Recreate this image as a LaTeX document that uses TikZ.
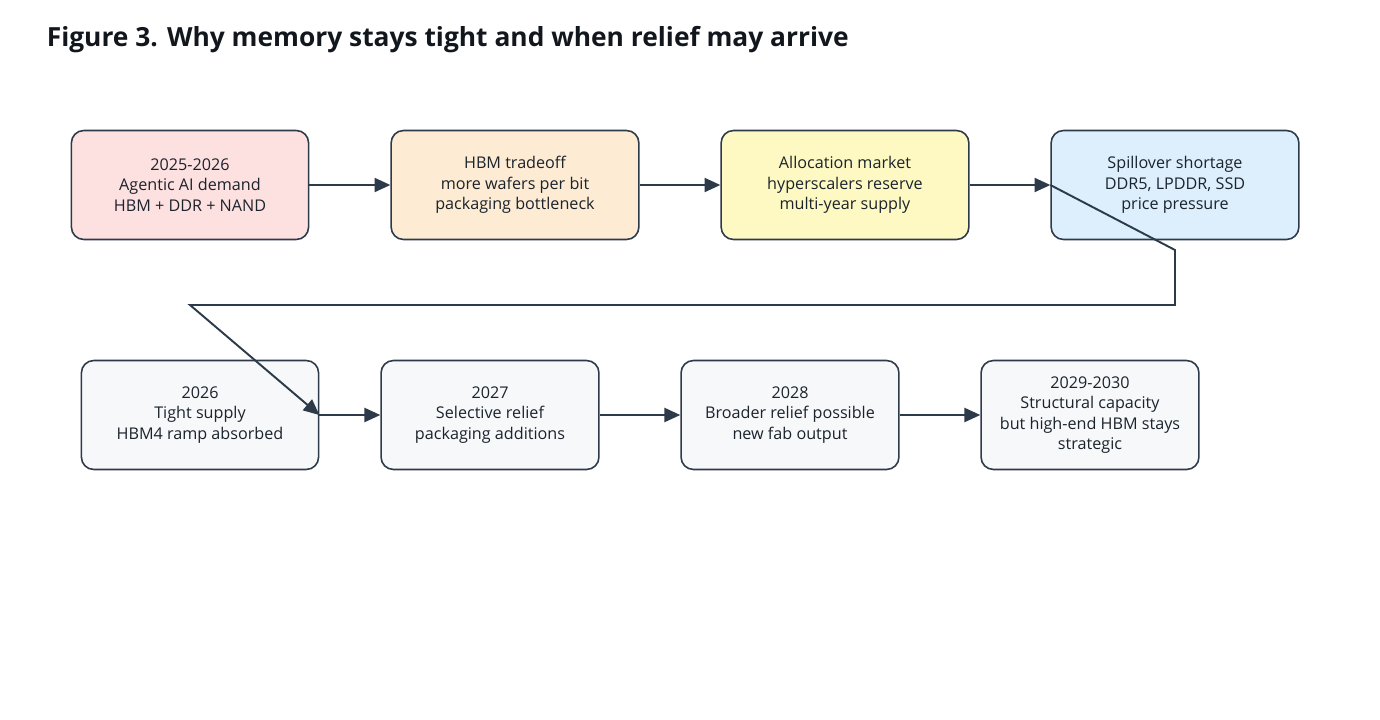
\documentclass[tikz,border=0pt]{standalone}
\usepackage{fontspec}
\setmainfont{Open Sans}
\usetikzlibrary{arrows.meta}
\usetikzlibrary{positioning}
\definecolor{ink}{HTML}{2D3A4A}
\definecolor{cpink}{HTML}{FDE0E0}
\definecolor{cpeach}{HTML}{FDEBD3}
\definecolor{cyell}{HTML}{FEF9C3}
\definecolor{cblue}{HTML}{DDEFFC}
\definecolor{cgrey}{HTML}{F7F8FA}
\begin{document}
\begin{tikzpicture}[x=0.02cm,
                    y=-0.02cm,
                    ->,
                    >={Triangle[length=9pt,width=8pt]},
                    line width=1.1pt,
                    draw=ink,
                    stage/.style={rectangle,rounded corners=7pt,draw=ink,line width=0.9pt,
                                  minimum height=62pt,align=center,font=\fontsize{9.2}{11.6}\selectfont,text=ink!60!black},
                    wide/.style={stage,minimum width=141pt},
                    narrow/.style={stage,minimum width=124pt}
                    ]
  \useasboundingbox (0,0) rectangle (1380,720);
  \node[anchor=west,font=\bfseries\fontsize{15}{18}\selectfont,text=ink!40!black] (title) at (40,40)
        {Figure 3. Why memory stays tight and when relief may arrive};
  \node[wide,fill=cpink,minimum width=135pt] (1) at (190,185) {2025-2026\\Agentic AI demand\\HBM + DDR + NAND};
  \node[wide,fill=cpeach] (2) at (515,185) {HBM tradeoff\\more wafers per bit\\packaging bottleneck};
  \node[wide,fill=cyell] (3) at (845,185) {Allocation market\\hyperscalers reserve\\multi-year supply};
  \node[wide,fill=cblue] (4) at (1175,185) {Spillover shortage\\DDR5, LPDDR, SSD\\price pressure};
  \node[wide,fill=cgrey,minimum width=135pt] (5) at (200,415) {2026\\Tight supply\\HBM4 ramp absorbed};
  \node[narrow,fill=cgrey] (6) at (490,415) {2027\\Selective relief\\packaging additions};
  \node[narrow,fill=cgrey] (7) at (790,415) {2028\\Broader relief possible\\new fab output};
  \node[narrow,fill=cgrey] (8) at (1090,415) {2029-2030\\Structural capacity\\but high-end HBM stays\\strategic};
  \coordinate (turn1) at (1175,250);
  \coordinate (turn2) at (1175,305);
  \coordinate (turn3) at (190,305);
  \draw (1) -- (2);
  \draw (2) -- (3);
  \draw (3) -- (4);
  \draw (4.west) -- (turn1) -- (turn2) -- (turn3) -- (5.east);
  \draw (5) -- (6);
  \draw (6) -- (7);
  \draw (7) -- (8);
\end{tikzpicture}
\end{document}
